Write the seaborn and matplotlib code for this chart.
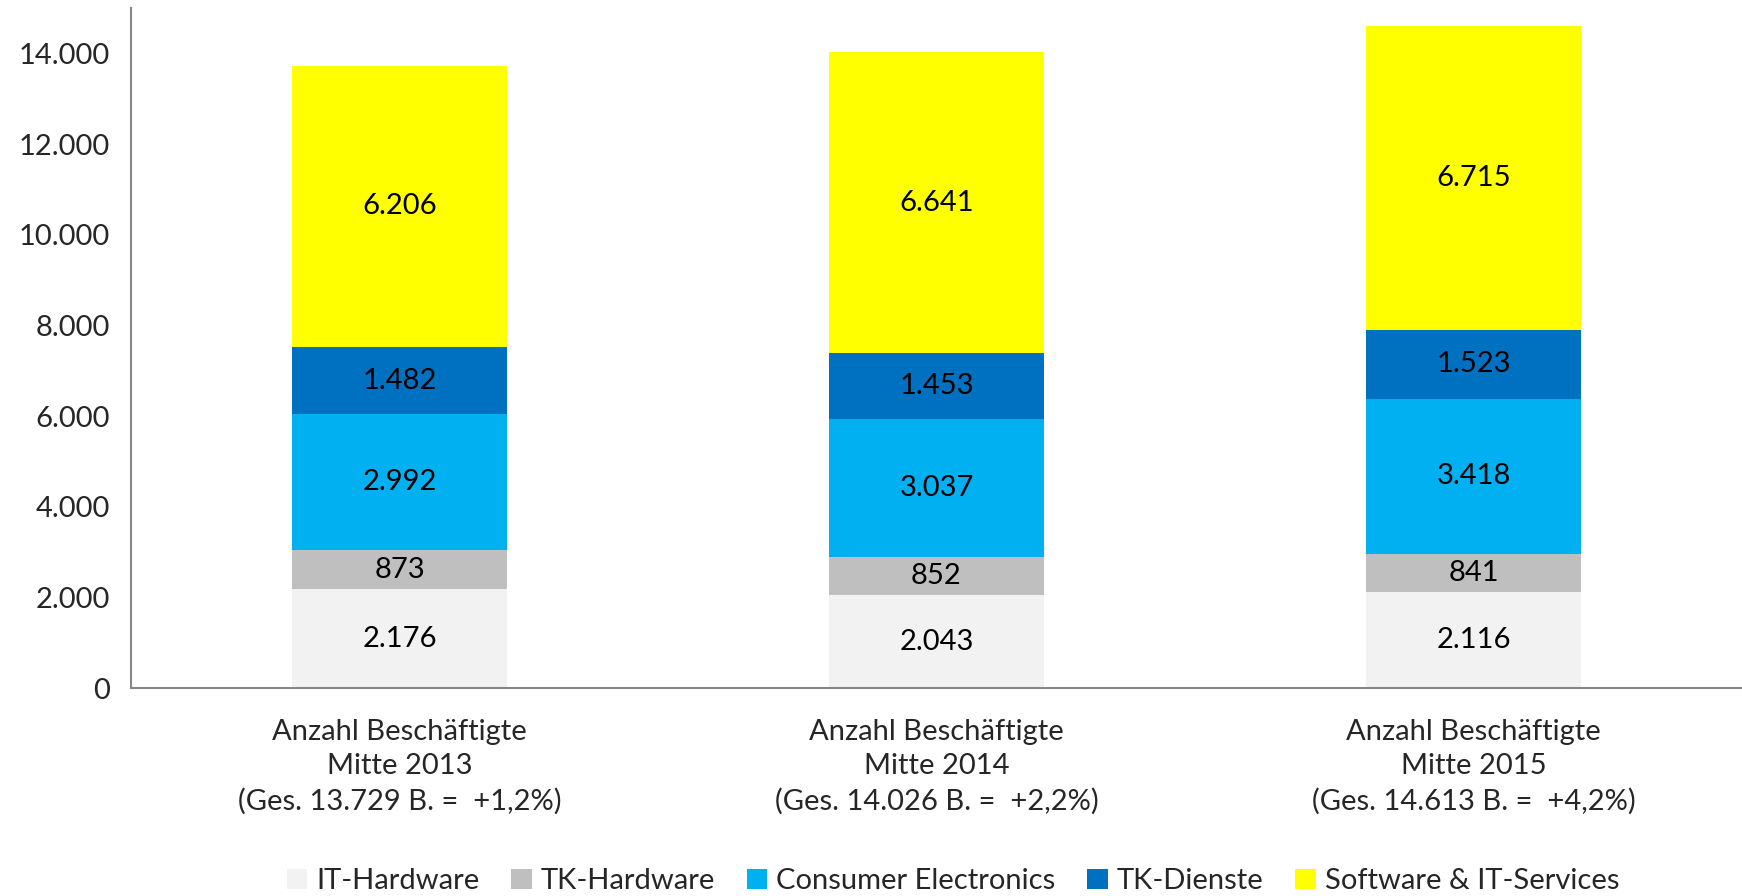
import matplotlib
matplotlib.use("Agg")
import matplotlib.pyplot as plt
import seaborn as sns
import pandas as pd
import numpy as np
from matplotlib.patches import Patch

categories = ["Anzahl Beschäftigte\nMitte 2013\n(Ges. 13.729 B. =  +1,2%)",
              "Anzahl Beschäftigte\nMitte 2014\n(Ges. 14.026 B. =  +2,2%)",
              "Anzahl Beschäftigte\nMitte 2015\n(Ges. 14.613 B. =  +4,2%)"]
series = ["IT-Hardware", "TK-Hardware", "Consumer Electronics", "TK-Dienste", "Software & IT-Services"]
it_hardware = [2176, 2043, 2116]
tk_hardware = [873, 852, 841]
consumer_el = [2992, 3037, 3418]
tk_dienste = [1482, 1453, 1523]
software = [6206, 6641, 6715]
colors = ["#F2F2F2", "#BFBFBF", "#00B0F0", "#0070C0", "#FFFF00"]

values = [it_hardware, tk_hardware, consumer_el, tk_dienste, software]

def fmt(v):
    return f"{v:,}".replace(",", ".")

sns.set_style("white")
plt.rcParams['font.family'] = ['Lato', 'DejaVu Sans']

fig = plt.figure(figsize=(17.42, 8.96), dpi=100)
ax = fig.add_axes([131 / 1742, 1 - 688 / 896, 1 - 131 / 1742, 680 / 896])

cum = np.cumsum(np.array(values), axis=0)
# draw cumulative totals from top series down so each layer overlays the next
for i in range(len(series) - 1, -1, -1):
    d = pd.DataFrame({"cat": categories, "val": cum[i]})
    sns.barplot(data=d, x="cat", y="val", color=colors[i], saturation=1,
                width=0.40, ax=ax, linewidth=0)

for i, vals in enumerate(values):
    for j, v in enumerate(vals):
        mid = cum[i][j] - v / 2
        ax.text(j, mid, fmt(v), ha="center", va="center", fontsize=21, color="black")

ax.set_ylim(0, 15000)
ax.set_xlim(-0.5, 2.5)
ax.set_yticks(range(0, 15000, 2000))
ax.set_yticklabels([fmt(t) for t in range(0, 15000, 2000)], fontsize=21)
ax.set_xticks([-0.5, 0.5, 1.5, 2.5])
ax.set_xticklabels([])
ax.set_xticks([0, 1, 2], minor=True)
ax.set_xticklabels(categories, minor=True, fontsize=21, linespacing=1.4)
ax.tick_params(axis="x", which="minor", length=0, pad=22)
ax.tick_params(axis="x", which="major", length=9, width=1.5, color="#868686", direction="out")
ax.tick_params(axis="y", length=7, width=1.5, color="#868686", direction="out", pad=8)
ax.set_xlabel("")
ax.set_ylabel("")
sns.despine(ax=ax)
for s in ["left", "bottom"]:
    ax.spines[s].set_color("#868686")
    ax.spines[s].set_linewidth(1.5)

handles = [Patch(facecolor=c, edgecolor="none", label=s) for c, s in zip(colors, series)]
fig.legend(handles=handles, loc="center", bbox_to_anchor=(953 / 1742, 1 - 881 / 896),
           ncol=5, frameon=False, fontsize=21, handlelength=0.7, handleheight=0.7,
           handletextpad=0.3, columnspacing=1.1)

fig.savefig("out.png", dpi=100)
